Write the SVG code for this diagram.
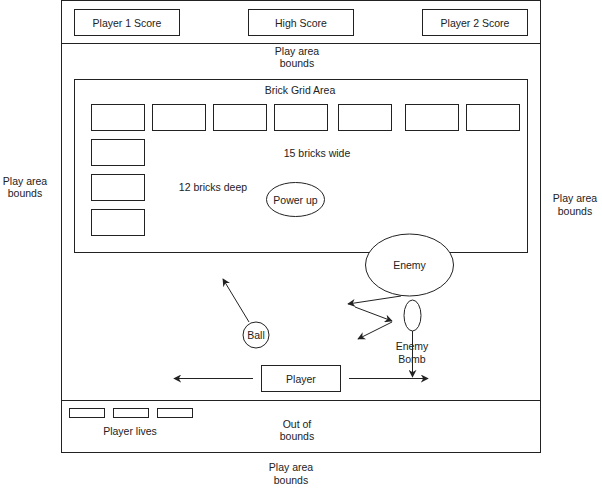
<svg xmlns="http://www.w3.org/2000/svg" width="602" height="489" viewBox="0 0 602 489">
<style>
.b{fill:#fff;stroke:#222;stroke-width:1}
.n{fill:none;stroke:#222;stroke-width:1}
text{font-family:"Liberation Sans",Arial,sans-serif;font-size:10.5px;fill:#222;text-anchor:middle;dominant-baseline:central}
.c{fill:none;stroke:#222;stroke-width:1;marker-end:url(#ah)}
</style>
<defs>
<marker id="ah" viewBox="0 0 10 10" refX="9" refY="5" markerWidth="8" markerHeight="8" markerUnits="userSpaceOnUse" orient="auto">
<path d="M0,0 L10,5 L0,10 L3,5 Z" fill="#222"/>
</marker>
</defs>
<rect width="602" height="489" fill="#fff"/>
<g id="frame">
<rect class="n" x="61.5" y="0.5" width="479" height="452"/>
<line class="n" x1="61.5" y1="43.5" x2="540.5" y2="43.5"/>
<line class="n" x1="61.5" y1="400.5" x2="540.5" y2="400.5"/>
</g>
<g id="p1score"><rect class="b" x="74.5" y="9.5" width="105" height="26"/><text x="127" y="22.5">Player 1 Score</text></g>
<g id="highscore"><rect class="b" x="248.5" y="9.5" width="105" height="26"/><text x="301" y="22.5">High Score</text></g>
<g id="p2score"><rect class="b" x="422.5" y="9.5" width="105" height="26"/><text x="475" y="22.5">Player 2 Score</text></g>
<g id="label-top"><text x="297" y="51">Play area</text><text x="297" y="63">bounds</text></g>
<g id="label-left"><text x="25" y="181">Play area</text><text x="25" y="193">bounds</text></g>
<g id="label-right"><text x="575" y="198">Play area</text><text x="575" y="211">bounds</text></g>
<g id="label-bottom"><text x="291" y="467">Play area</text><text x="291" y="480">bounds</text></g>
<g id="brickgrid">
<rect class="b" x="74.5" y="79.5" width="453" height="173"/>
<text x="300" y="90">Brick Grid Area</text>
</g>
<g id="bricks">
<rect class="b" x="91.5" y="104.5" width="53" height="26"/>
<rect class="b" x="152.5" y="104.5" width="53" height="26"/>
<rect class="b" x="213.5" y="104.5" width="53" height="26"/>
<rect class="b" x="274.5" y="104.5" width="53" height="26"/>
<rect class="b" x="338.5" y="104.5" width="53" height="26"/>
<rect class="b" x="405.5" y="104.5" width="53" height="26"/>
<rect class="b" x="466.5" y="104.5" width="53" height="26"/>
<rect class="b" x="91.5" y="139.5" width="53" height="26"/>
<rect class="b" x="91.5" y="174.5" width="53" height="26"/>
<rect class="b" x="91.5" y="209.5" width="53" height="26"/>
</g>
<g id="labels-grid"><text x="317" y="153">15 bricks wide</text><text x="213" y="187">12 bricks deep</text></g>
<g id="powerup"><ellipse class="b" cx="295.5" cy="199.5" rx="29" ry="17"/><text x="295.5" y="199.5">Power up</text></g>
<g id="enemy"><ellipse class="b" cx="409.5" cy="265" rx="44" ry="31"/><text x="409.5" y="265">Enemy</text></g>
<g id="enemybomb"><ellipse class="b" cx="412.5" cy="315.5" rx="8.5" ry="15.5"/><text x="412" y="346">Enemy</text><text x="412" y="359">Bomb</text></g>
<g id="ball"><circle class="b" cx="256" cy="335" r="13"/><text x="256" y="335">Ball</text></g>
<g id="player"><rect class="b" x="261.5" y="365.5" width="79" height="26"/><text x="301" y="378.5">Player</text></g>
<g id="lives">
<rect class="b" x="69.5" y="408.5" width="35" height="9"/>
<rect class="b" x="113.5" y="408.5" width="35" height="9"/>
<rect class="b" x="157.5" y="408.5" width="35" height="9"/>
<text x="130" y="431">Player lives</text>
</g>
<g id="outofbounds"><text x="297" y="424">Out of</text><text x="297" y="436">bounds</text></g>
<g id="connectors">
<line class="c" x1="249" y1="322" x2="223" y2="279"/>
<line class="c" x1="401" y1="296" x2="348" y2="304"/>
<line class="c" x1="355" y1="307" x2="392" y2="321"/>
<line class="c" x1="392" y1="322" x2="358" y2="339"/>
<line class="c" x1="412.5" y1="331" x2="412.5" y2="377"/>
<line class="c" x1="253" y1="378.5" x2="174" y2="378.5"/>
<line class="c" x1="349" y1="378.5" x2="428" y2="378.5"/>
</g>
</svg>
